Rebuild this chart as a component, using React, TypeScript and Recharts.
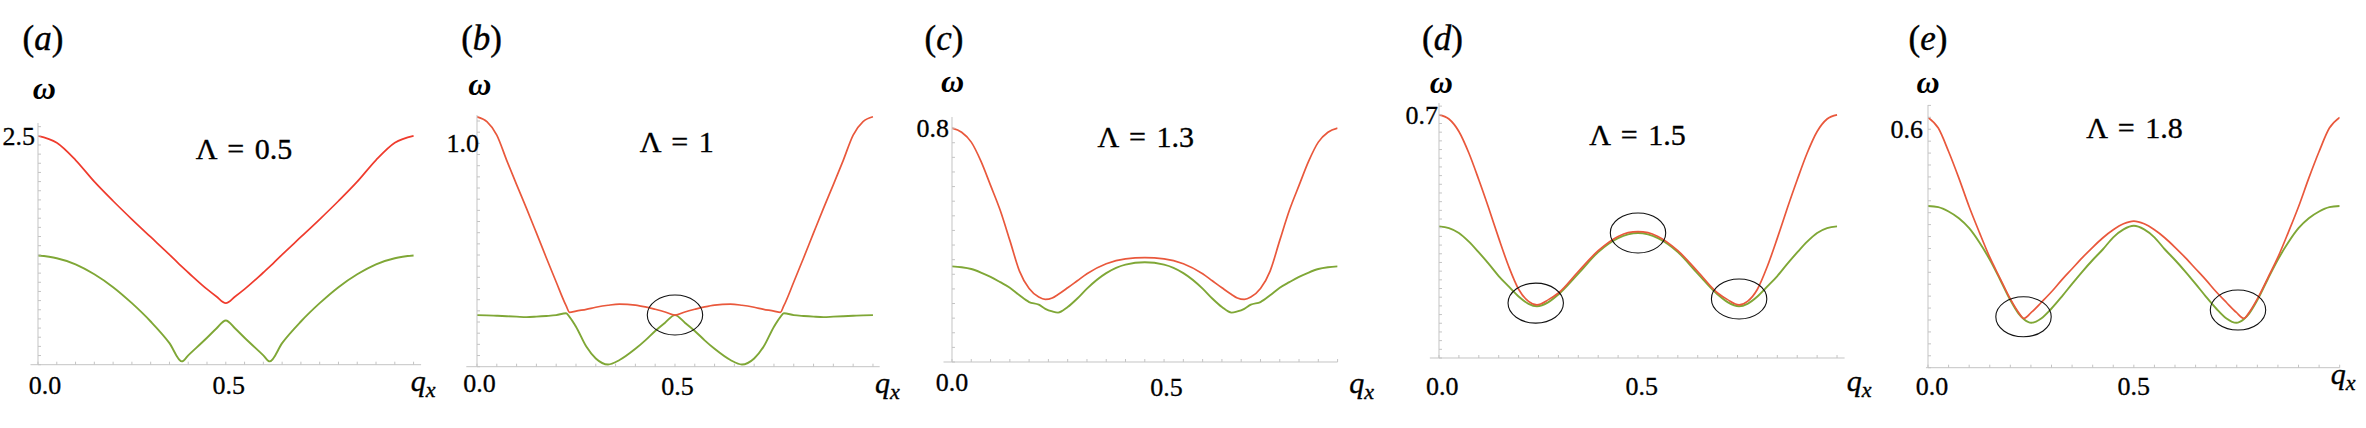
import React from "react";
import { LineChart, Line, XAxis, YAxis, ReferenceDot, ReferenceLine } from "recharts";

const FONT = "'Liberation Serif', 'DejaVu Serif', 'Times New Roman', Times, serif";
const AXIS = "#c4c4c4";
const GREEN = "#7fa736";
const INK = "#000";

// (a) Λ = 0.5
const qA = [0, 0.05, 0.1, 0.15, 0.2, 0.25, 0.3, 0.35, 0.383, 0.4, 0.45, 0.475, 0.5, 0.525, 0.55, 0.6, 0.617, 0.65, 0.7, 0.75, 0.8, 0.85, 0.9, 0.95, 1];
const upperA = [2.5, 2.424, 2.235, 1.999, 1.788, 1.588, 1.395, 1.203, 1.07, 1.007, 0.825, 0.745, 0.672, 0.745, 0.825, 1.007, 1.07, 1.203, 1.395, 1.588, 1.788, 1.999, 2.235, 2.424, 2.5];
const lowerA = [1.192, 1.163, 1.097, 0.988, 0.847, 0.672, 0.472, 0.236, 0.036, 0.102, 0.294, 0.395, 0.483, 0.395, 0.294, 0.102, 0.036, 0.236, 0.472, 0.672, 0.847, 0.988, 1.097, 1.163, 1.192];

// (b) Λ = 1
const qB = [0, 0.025, 0.05, 0.075, 0.1, 0.125, 0.15, 0.175, 0.2, 0.225, 0.234, 0.25, 0.276, 0.3, 0.331, 0.36, 0.4, 0.425, 0.45, 0.475, 0.5,
  0.525, 0.55, 0.575, 0.6, 0.64, 0.669, 0.7, 0.724, 0.75, 0.766, 0.775, 0.8, 0.825, 0.85, 0.875, 0.9, 0.925, 0.95, 0.975, 1];
const upperB = [1.119, 1.097, 1.037, 0.924, 0.815, 0.709, 0.599, 0.488, 0.379, 0.273, 0.243, 0.249, 0.257, 0.266, 0.275, 0.28, 0.276, 0.268, 0.257, 0.245, 0.231,
  0.245, 0.257, 0.268, 0.276, 0.28, 0.275, 0.266, 0.257, 0.249, 0.243, 0.273, 0.379, 0.488, 0.599, 0.709, 0.815, 0.924, 1.037, 1.097, 1.119];
const lowerB = [0.231, 0.23, 0.228, 0.226, 0.224, 0.222, 0.224, 0.227, 0.231, 0.239, 0.222, 0.179, 0.09, 0.037, 0.01, 0.03, 0.08, 0.118, 0.16, 0.197, 0.231,
  0.197, 0.16, 0.118, 0.08, 0.03, 0.01, 0.037, 0.09, 0.179, 0.222, 0.239, 0.231, 0.227, 0.224, 0.222, 0.224, 0.226, 0.228, 0.23, 0.231];

// (c) Λ = 1.3
const qC = [0, 0.025, 0.05, 0.075, 0.1, 0.125, 0.15, 0.175, 0.2, 0.225, 0.242, 0.26, 0.275, 0.3, 0.325, 0.35, 0.4, 0.45, 0.5,
  0.55, 0.6, 0.65, 0.675, 0.7, 0.725, 0.74, 0.758, 0.775, 0.8, 0.825, 0.85, 0.875, 0.9, 0.925, 0.95, 0.975, 1];
const upperC = [0.8, 0.786, 0.752, 0.687, 0.604, 0.519, 0.416, 0.311, 0.251, 0.222, 0.214, 0.219, 0.231, 0.254, 0.278, 0.302, 0.336, 0.353, 0.357,
  0.353, 0.336, 0.302, 0.278, 0.254, 0.231, 0.219, 0.214, 0.222, 0.251, 0.311, 0.416, 0.519, 0.604, 0.687, 0.752, 0.786, 0.8];
const lowerC = [0.327, 0.324, 0.318, 0.306, 0.291, 0.273, 0.254, 0.228, 0.205, 0.196, 0.182, 0.173, 0.169, 0.188, 0.217, 0.251, 0.304, 0.333, 0.341,
  0.333, 0.304, 0.251, 0.217, 0.188, 0.169, 0.173, 0.182, 0.196, 0.205, 0.228, 0.254, 0.273, 0.291, 0.306, 0.318, 0.324, 0.327];

// (d) Λ = 1.5
const qD = [0, 0.025, 0.05, 0.075, 0.1, 0.125, 0.15, 0.175, 0.2, 0.225, 0.246, 0.275, 0.3, 0.35, 0.4, 0.45, 0.475, 0.5,
  0.525, 0.55, 0.6, 0.65, 0.7, 0.725, 0.754, 0.775, 0.8, 0.825, 0.85, 0.875, 0.9, 0.925, 0.95, 0.975, 1];
const upperD = [0.7, 0.688, 0.652, 0.59, 0.513, 0.431, 0.345, 0.264, 0.198, 0.163, 0.153, 0.168, 0.187, 0.249, 0.309, 0.35, 0.361, 0.364,
  0.361, 0.35, 0.309, 0.249, 0.187, 0.168, 0.153, 0.163, 0.198, 0.264, 0.345, 0.431, 0.513, 0.59, 0.652, 0.688, 0.7];
const lowerD = [0.379, 0.374, 0.36, 0.335, 0.304, 0.271, 0.236, 0.206, 0.177, 0.156, 0.149, 0.161, 0.183, 0.243, 0.305, 0.345, 0.356, 0.36,
  0.356, 0.345, 0.305, 0.243, 0.183, 0.161, 0.149, 0.156, 0.177, 0.206, 0.236, 0.271, 0.304, 0.335, 0.36, 0.374, 0.379];

// (e) Λ = 1.8
const qE = [0, 0.025, 0.05, 0.075, 0.1, 0.125, 0.15, 0.175, 0.2, 0.22, 0.233, 0.251, 0.275, 0.3, 0.325, 0.35, 0.375, 0.4, 0.425, 0.45, 0.475, 0.5,
  0.525, 0.55, 0.575, 0.6, 0.625, 0.65, 0.675, 0.7, 0.725, 0.749, 0.767, 0.78, 0.8, 0.825, 0.85, 0.875, 0.9, 0.925, 0.95, 0.975, 1];
const upperE = [0.63, 0.603, 0.544, 0.477, 0.405, 0.34, 0.278, 0.225, 0.173, 0.139, 0.124, 0.139, 0.164, 0.191, 0.221, 0.249, 0.277, 0.303, 0.327, 0.347, 0.362, 0.369,
  0.362, 0.347, 0.327, 0.303, 0.277, 0.249, 0.221, 0.191, 0.164, 0.139, 0.124, 0.139, 0.173, 0.225, 0.278, 0.34, 0.405, 0.477, 0.544, 0.603, 0.63];
const lowerE = [0.407, 0.404, 0.393, 0.376, 0.351, 0.315, 0.272, 0.222, 0.17, 0.136, 0.122, 0.113, 0.124, 0.149, 0.179, 0.211, 0.242, 0.271, 0.298, 0.328, 0.348, 0.357,
  0.348, 0.328, 0.298, 0.271, 0.242, 0.211, 0.179, 0.149, 0.124, 0.113, 0.122, 0.136, 0.17, 0.222, 0.272, 0.315, 0.351, 0.376, 0.393, 0.404, 0.407];

// tick labels
const xLabelValues = [0, 0.5];
const xLabelTexts = ["0.0", "0.5"];
const yLabelValues = [2.5, 1.0, 0.8, 0.7, 0.6];
const yLabelTexts = ["2.5", "1.0", "0.8", "0.7", "0.6"];
const lambdas = ["0.5", "1", "1.3", "1.5", "1.8"];
const letters = ["a", "b", "c", "d", "e"];

// ellipse markers [q, ω]
const ringsB = [[0.5, 0.2315]];
const ringsD = [[0.243, 0.158], [0.5, 0.36], [0.754, 0.17]];
const ringsE = [[0.232, 0.128], [0.753, 0.145]];

const YW = 70;
const MT = 12;
const MR = 14;
const XH = 50;

const steps = (step: number, max: number) =>
  Array.from({ length: Math.floor(max / step + 1e-6) + 1 }, (_, i) => +(i * step).toFixed(4));

const build = (q: number[], up: number[], lo: number[]) => q.map((v, i) => ({ q: v, upper: up[i], lower: lo[i] }));

const panels = [
  { data: build(qA, upperA, lowerA), red: "#ef3b2d", left: 37.7, top: 123.3, pw: 383.1, ph: 241.7, xMax: 1.02, yMax: 2.64, yStep: 0.1,
    xOff: [[7, 29.5], [3, 29.5]], yDx: -3, stub: -0.02, rings: [] as number[][] },
  { data: build(qB, upperB, lowerB), red: "#e9583c", left: 477.3, top: 115, pw: 402.7, ph: 251.7, xMax: 1.017, yMax: 1.127, yStep: 0.05,
    xOff: [[2.4, 25.3], [2.5, 28.8]], yDx: 2, stub: -0.027, rings: ringsB },
  { data: build(qC, upperC, lowerC), red: "#e9583c", left: 951.7, top: 116.7, pw: 385.6, ph: 245, xMax: 1.0, yMax: 0.838, yStep: 0.05,
    xOff: [[0, 28.8], [21.7, 33.8]], yDx: -3, stub: -0.022, rings: [] as number[][] },
  { data: build(qD, upperD, lowerD), red: "#e9583c", left: 1439.3, top: 103.3, pw: 405.6, ph: 255, xMax: 1.019, yMax: 0.734, yStep: 0.025,
    xOff: [[3.2, 37.2], [3.7, 37.2]], yDx: -1, stub: -0.023, rings: ringsD },
  { data: build(qE, upperE, lowerE), red: "#e9583c", left: 1928.3, top: 105, pw: 411.7, ph: 262.7, xMax: 1.0, yMax: 0.661, yStep: 0.03,
    xOff: [[3.9, 27.8], [0, 27.8]], yDx: -5, stub: -0.005, rings: ringsE },
];

// overlay text positions
const letterX = [43, 481.6, 944, 1442.5, 1928];
const omegaPos = [[44.2, 99.3], [479.7, 95], [952.5, 91.7], [1441.3, 92.7], [1928, 92.7]];
const lambdaPos = [[244, 159.3], [676.7, 151.7], [1145.8, 147.3], [1637.5, 145], [2134.5, 138.3]];
const qxPos = [[410.7, 390.6], [875, 392.6], [1349.3, 392.6], [1846.7, 390.6], [2330.7, 384.3]];

function Panel({ p, idx }: { p: any; idx: number }) {
  const xTicks = steps(0.05, p.xMax);
  const yTicks = steps(p.yStep, p.yMax);
  const XTick = (props: any) => {
    const { x, y, payload } = props;
    const k = xLabelValues.findIndex((v) => Math.abs(v - payload.value) < 1e-6);
    return (
      <g>
        <line x1={x} y1={y} x2={x} y2={y - 3} stroke={AXIS} strokeWidth={1} />
        {k >= 0 && (
          <text x={x + p.xOff[k][0]} y={y + p.xOff[k][1]} textAnchor="middle" style={{ fontFamily: FONT }} fontSize={26}
            fill={INK} stroke={INK} strokeWidth={0.3}>
            {xLabelTexts[k]}
          </text>
        )}
      </g>
    );
  };
  const YTick = (props: any) => {
    const { x, y, payload } = props;
    const isLabel = Math.abs(payload.value - yLabelValues[idx]) < 1e-6;
    return (
      <g>
        <line x1={x} y1={y} x2={x + 3} y2={y} stroke={AXIS} strokeWidth={1} />
        {isLabel && (
          <text x={x + p.yDx} y={y + 8.8} textAnchor="end" style={{ fontFamily: FONT }} fontSize={26}
            fill={INK} stroke={INK} strokeWidth={0.3}>
            {yLabelTexts[idx]}
          </text>
        )}
      </g>
    );
  };
  const w = YW + p.pw + MR;
  const h = MT + p.ph + XH;
  return (
    <div style={{ position: "absolute", left: p.left - YW, top: p.top - MT, width: w, height: h }}>
      <LineChart width={w} height={h} data={p.data} margin={{ top: MT, right: MR, bottom: 0, left: 0 }}>
        <XAxis dataKey="q" type="number" domain={[0, p.xMax]} ticks={xTicks} interval={0} tickSize={0} tickMargin={0}
          tickLine={false} axisLine={{ stroke: AXIS }} tick={XTick} height={XH} allowDataOverflow />
        <YAxis type="number" domain={[0, p.yMax]} ticks={yTicks} interval={0} tickSize={0} tickMargin={0}
          tickLine={false} axisLine={{ stroke: AXIS }} tick={YTick} width={YW} allowDataOverflow />
        <ReferenceLine segment={[{ x: p.stub, y: 0 }, { x: 0, y: 0 }]} stroke={AXIS} ifOverflow="visible" />
        <Line dataKey="lower" type="monotone" stroke={GREEN} strokeWidth={1.9} dot={false} isAnimationActive={false} />
        <Line dataKey="upper" type="monotone" stroke={p.red} strokeWidth={1.7} dot={false} isAnimationActive={false} />
        {p.rings.map((r: number[], i: number) => (
          <ReferenceDot key={i} x={r[0]} y={r[1]} r={1} ifOverflow="visible"
            shape={(s: any) => <ellipse cx={s.cx} cy={s.cy} rx={27.7} ry={20} fill="none" stroke="#111" strokeWidth={1.1} />} />
        ))}
      </LineChart>
    </div>
  );
}

export default function App() {
  return (
    <div style={{ position: "absolute", left: 0, top: 0, width: 2366, height: 428, background: "#fff", overflow: "hidden", fontFamily: FONT }}>
      {panels.map((p, i) => (
        <Panel key={i} p={p} idx={i} />
      ))}
      <svg width={2366} height={428} style={{ position: "absolute", left: 0, top: 0, pointerEvents: "none", fontFamily: FONT }}>
        {letters.map((t, i) => (
          <text key={"l" + i} x={letterX[i]} y={49.5} textAnchor="middle" fontSize={35} fill={INK} stroke={INK} strokeWidth={0.4}>
            (<tspan fontStyle="italic">{t}</tspan>)
          </text>
        ))}
        {omegaPos.map((o, i) => (
          <text key={"w" + i} x={o[0]} y={o[1]} textAnchor="middle" fontSize={32} fontStyle="italic" fontWeight="bold" fill={INK}>
            ω
          </text>
        ))}
        {lambdaPos.map((o, i) => (
          <text key={"L" + i} x={o[0]} y={o[1]} textAnchor="middle" fontSize={30} wordSpacing={3} fill={INK} stroke={INK} strokeWidth={0.35}>
            {"Λ = " + lambdas[i]}
          </text>
        ))}
        {qxPos.map((o, i) => (
          <text key={"q" + i} x={o[0]} y={o[1]} fontSize={30} fontStyle="italic" fill={INK} stroke={INK} strokeWidth={0.35}>
            q<tspan fontSize={22} dy={6}>x</tspan>
          </text>
        ))}
      </svg>
    </div>
  );
}
